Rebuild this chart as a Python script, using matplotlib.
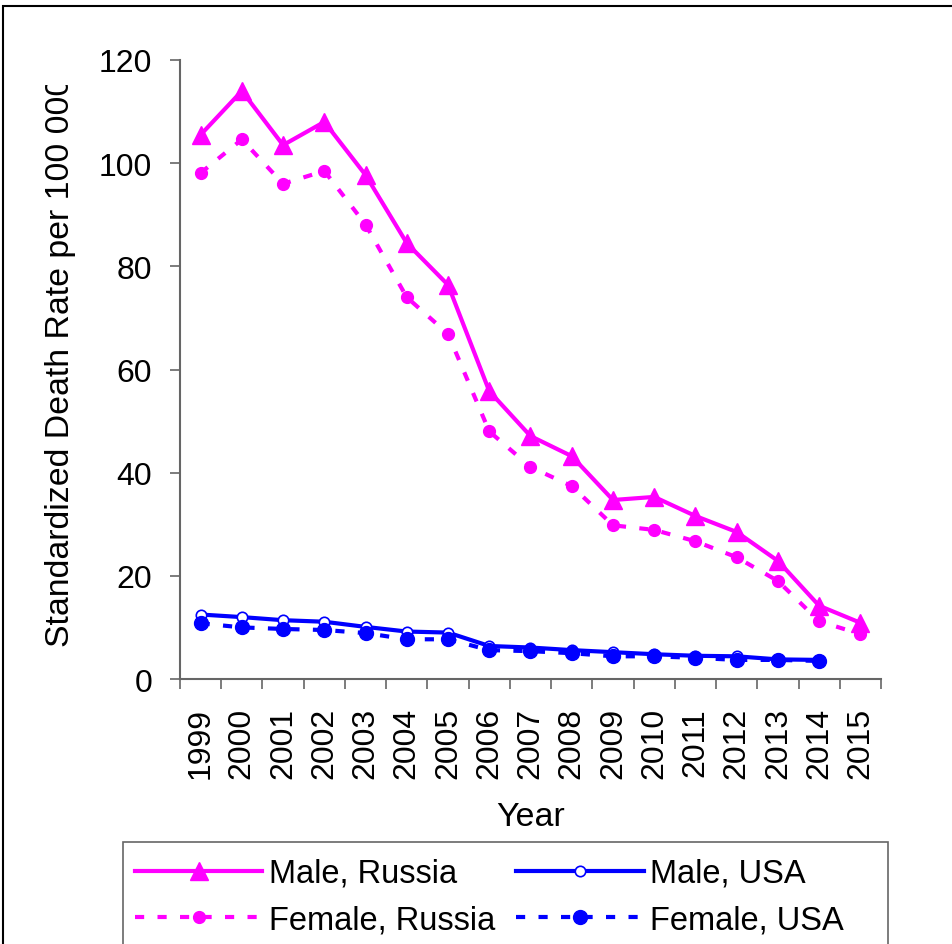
import matplotlib
matplotlib.use("Agg")
import matplotlib.pyplot as plt
from matplotlib.lines import Line2D
from matplotlib.patches import Rectangle
from matplotlib.transforms import Bbox, TransformedBbox
import numpy as np

plt.rcParams['font.family'] = ['Liberation Sans', 'DejaVu Sans']

years = ['1999', '2000', '2001', '2002', '2003', '2004', '2005', '2006', '2007',
         '2008', '2009', '2010', '2011', '2012', '2013', '2014', '2015']
male_russia = [105.5, 114, 103.5, 108, 97.7, 84.5, 76.4, 55.8, 47.1, 43.2, 34.7,
               35.3, 31.6, 28.5, 22.9, 14.2, 10.9]
female_russia = [98.1, 104.6, 96, 98.5, 88.1, 74, 66.9, 48, 41.1, 37.4, 29.8,
                 28.9, 26.7, 23.6, 19, 11.2, 8.7]
male_usa = [12.5, 12, 11.4, 11.1, 10.1, 9.2, 9, 6.4, 6.1, 5.6, 5.2, 4.8, 4.5,
            4.4, 3.8, 3.7, np.nan]
female_usa = [10.8, 10, 9.7, 9.5, 8.9, 7.7, 7.7, 5.6, 5.4, 5, 4.4, 4.4, 4.1,
              3.7, 3.7, 3.5, np.nan]
yticks = [0, 20, 40, 60, 80, 100, 120]

W, H = 953, 945
fig = plt.figure(figsize=(W / 100, H / 100), dpi=100)
ax = fig.add_axes([180 / W, (H - 680) / H, 701 / W, 619 / H])

x = np.arange(len(years))
mag = '#FF00FF'
blu = '#0000FF'
lw = 3.0
dash = (0, (2.2, 3.2))

ax.plot(x, female_russia, color=mag, lw=lw, linestyle=dash, marker='o',
        markersize=8.5, markerfacecolor=mag, markeredgecolor=mag, zorder=3)
ax.plot(x, male_russia, color=mag, lw=lw, marker='^', markersize=13,
        markerfacecolor=mag, markeredgecolor=mag, zorder=4)
ax.plot(x, male_usa, color=blu, lw=lw, marker='o', markersize=7.5,
        markerfacecolor='white', markeredgecolor=blu, markeredgewidth=1.2, zorder=4)
ax.plot(x, female_usa, color=blu, lw=lw, linestyle=dash, marker='o',
        markersize=10, markerfacecolor=blu, markeredgecolor=blu, zorder=5)

ax.set_xlim(-0.5, len(years) - 0.5)
ax.set_ylim(0, 120)
ax.set_yticks(yticks)
ax.set_yticklabels([str(v) for v in yticks], fontsize=23)

ax.set_xticks(np.arange(-0.5, len(years), 1.0))
ax.set_xticklabels([])
ax.set_xticks(x, minor=True)
ax.set_xticklabels(years, minor=True, rotation=90, fontsize=23)
ax.tick_params(axis='x', which='minor', length=0, pad=20)
ax.tick_params(axis='x', which='major', length=7, width=1.2, color='#666666', direction='out')
ax.tick_params(axis='y', length=7, width=1.2, color='#666666', direction='out', pad=13)

for s in ['top', 'right']:
    ax.spines[s].set_visible(False)
for s in ['left', 'bottom']:
    ax.spines[s].set_color('#666666')
    ax.spines[s].set_linewidth(1.5)

fig.text(531 / W, (H - 818) / H, 'Year', fontsize=24.5, ha='center', va='center')

yl = fig.text(61 / W, (H - 647) / H, 'Standardized Death Rate per 100 000',
              fontsize=24.4, rotation=90, ha='center', va='bottom')
yl.set_clip_on(True)
yl.set_clip_box(TransformedBbox(Bbox([[0, 0], [1, (H - 86) / H]]), fig.transFigure))

# chart-area border
fig.patches.append(Rectangle((3 / W, -0.05), 1.1, (H - 7) / H + 0.05,
                             transform=fig.transFigure, fill=False,
                             edgecolor='black', lw=1.5))
# legend frame
fig.patches.append(Rectangle((123 / W, -0.05), (888 - 123) / W, (H - 843) / H + 0.05,
                             transform=fig.transFigure, fill=False,
                             edgecolor='#666666', lw=1.2))

h_mr = Line2D([], [], color=mag, lw=lw, marker='^', markersize=13)
h_mu = Line2D([], [], color=blu, lw=lw, marker='o', markersize=7.5,
              markerfacecolor='white', markeredgecolor=blu, markeredgewidth=1.2)
h_fr = Line2D([], [], color=mag, lw=lw, linestyle=dash, marker='o', markersize=8.5)
h_fu = Line2D([], [], color=blu, lw=lw, linestyle=dash, marker='o', markersize=10)

leg = fig.legend([h_mr, h_fr, h_mu, h_fu],
                 ['Male, Russia', 'Female, Russia', 'Male, USA', 'Female, USA'],
                 ncol=2, loc='upper left',
                 bbox_to_anchor=(135 / W, (H - 859) / H),
                 fontsize=23.5, handlelength=3.9, handletextpad=0.21,
                 columnspacing=0.64, labelspacing=0.47, borderpad=0,
                 frameon=False, borderaxespad=0)

fig.savefig('out.png', dpi=100)
